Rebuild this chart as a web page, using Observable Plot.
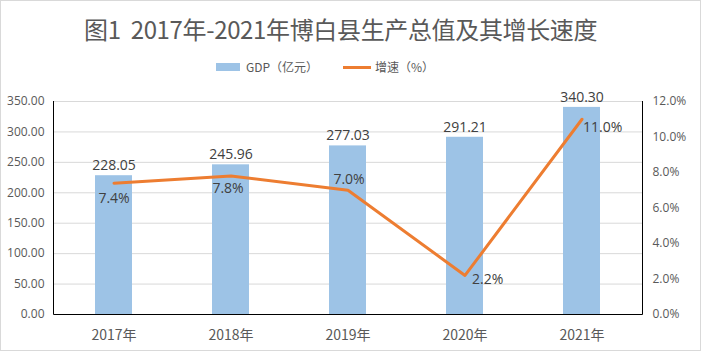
<!DOCTYPE html>
<html>
<head>
<meta charset="utf-8">
<script src="https://cdn.jsdelivr.net/npm/d3@7"></script>
<script src="https://cdn.jsdelivr.net/npm/@observablehq/plot@0.6"></script>
<style>
  body { margin: 0; background: #fff; }
  #wrap { position: relative; width: 701px; height: 351px; overflow: hidden; background: #fff; }
  #border { position: absolute; left: 0; top: 0; width: 699px; height: 349px; border: 1px solid #d9d9d9; pointer-events: none; }
  #title { position: absolute; left: 84px; top: 17px; font: 24px/24px "Noto Sans CJK SC", sans-serif; color: #595959; white-space: nowrap; letter-spacing: -0.35px; }
  .lg { position: absolute; font: 12px/12px "Noto Sans CJK SC", sans-serif; color: #595959; white-space: nowrap; top: 61px; }
  .sw { position: absolute; }
  #chart { position: absolute; left: 0; top: 0; }
</style>
</head>
<body>
<div id="wrap">
  <div id="chart"></div>
  <div id="title">图1&nbsp; 2017年-2021年博白县生产总值及其增长速度</div>
  <div class="sw" style="left:216px;top:63px;width:24px;height:8px;background:#9dc3e6"></div>
  <div class="lg" style="left:246px">GDP（亿元）</div>
  <div class="sw" style="left:343px;top:65.5px;width:28px;height:3px;background:#ed7d31"></div>
  <div class="lg" style="left:375px">增速（%）</div>
  <div id="border"></div>
</div>
<script>
const years = ["2017年", "2018年", "2019年", "2020年", "2021年"];
const gdp = [228.05, 245.96, 277.03, 291.21, 340.30];
const growth = [7.4, 7.8, 7.0, 2.2, 11.0];
const gdpTicks = [0, 50, 100, 150, 200, 250, 300, 350];
const rateTicks = [0, 2, 4, 6, 8, 10, 12];

const gdpMax = 350, rateMax = 12;
const k = gdpMax / rateMax;
const data = years.map((year, i) => ({year, gdp: gdp[i], growth: growth[i], gy: growth[i] * k}));

// label placement offsets for the growth labels (style, not data)
const rateLabelPos = [
  {dx: 0, dy: 15, textAnchor: "middle"},
  {dx: -3, dy: 12, textAnchor: "middle"},
  {dx: 1, dy: -11, textAnchor: "middle"},
  {dx: 7, dy: 4, textAnchor: "start"},
  {dx: 1, dy: 8, textAnchor: "start"}
];

const axisLines = (index, scales, values, dims) => {
  const l = dims.marginLeft + 0.5, t = dims.marginTop;
  const r = dims.width - dims.marginRight + 0.5, b = dims.height - dims.marginBottom + 0.5;
  const g = d3.create("svg:g");
  g.append("path")
    .attr("d", `M${l},${t}V${b}H${r}V${t}`)
    .attr("fill", "none").attr("stroke", "#000").attr("stroke-width", 1);
  return g.node();
};

const chart = Plot.plot({
  width: 701,
  height: 351,
  marginLeft: 53,
  marginRight: 59,
  marginTop: 101,
  marginBottom: 37,
  style: {fontFamily: '"Open Sans", sans-serif', fontSize: "12px", color: "#595959", background: "transparent"},
  x: {domain: years, paddingInner: 0.686, paddingOuter: 0.343, label: null},
  y: {domain: [0, gdpMax], label: null},
  marks: [
    Plot.gridY(gdpTicks.slice(1), {stroke: "#d9d9d9", strokeOpacity: 1}),
    Plot.barY(data, {x: "year", y: "gdp", fill: "#9dc3e6"}),
    axisLines,
    Plot.axisY(gdpTicks, {tickFormat: d => d.toFixed(2), tickSize: 0, tickPadding: 9, label: null, fontSize: 12}),
    Plot.axisY(rateTicks.map(v => v * k), {anchor: "right", tickFormat: d => (d / k).toFixed(1) + "%", tickSize: 0, tickPadding: 10, label: null, fontSize: 12}),
    Plot.axisX({tickSize: 0, tickPadding: 16, label: null, fontSize: 14, fontFamily: '"Noto Sans CJK SC", sans-serif'}),
    Plot.line(data, {x: "year", y: "gy", stroke: "#ed7d31", strokeWidth: 3}),
    Plot.text(data, {x: "year", y: "gdp", text: d => d.gdp.toFixed(2), lineAnchor: "middle", dy: -10, fontSize: 14, fill: "#404040"}),
    ...data.map((d, i) => Plot.text([d], {
      x: "year", y: "gy", text: v => v.growth.toFixed(1) + "%",
      lineAnchor: "middle", fontSize: 14, fill: "#404040", ...rateLabelPos[i]
    }))
  ]
});
document.getElementById("chart").appendChild(chart);
</script>
</body>
</html>
